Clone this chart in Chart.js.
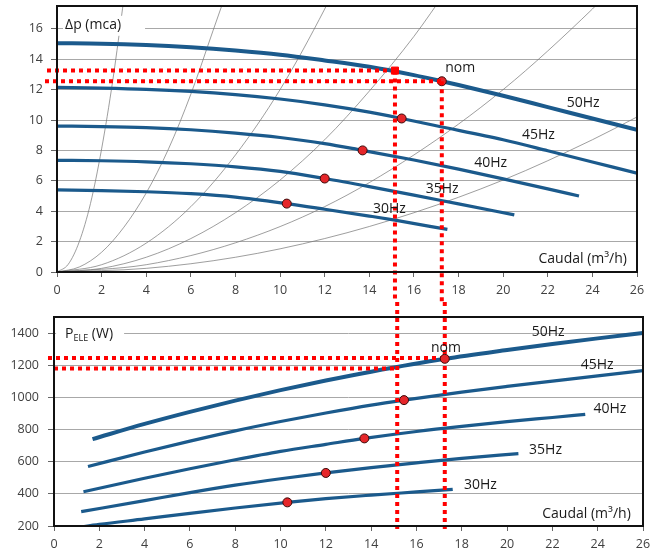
<!DOCTYPE html>
<html>
<head>
<meta charset="utf-8">
<script src="https://cdn.jsdelivr.net/npm/chart.js@4.4.1/dist/chart.umd.min.js"></script>
<style>
  html, body { margin: 0; padding: 0; background: #fff; }
  #wrap { position: relative; width: 660px; height: 559px; }
  #wrap canvas { position: absolute; left: 0; }
  #headChart { top: 0; width: 660px; height: 302px; }
  #powerChart { top: 302px; width: 660px; height: 257px; }
</style>
</head>
<body>
<div id="wrap">
  <canvas id="headChart" width="660" height="302"></canvas>
  <canvas id="powerChart" width="660" height="257"></canvas>
</div>
<script>
/* ========================================
   Pump curves: head and electric power vs flow
==========================================*/

// Tick values
const qTicks = [0, 2, 4, 6, 8, 10, 12, 14, 16, 18, 20, 22, 24, 26];
const headTicks = [0, 2, 4, 6, 8, 10, 12, 14, 16];
const powerTicks = [200, 400, 600, 800, 1000, 1200, 1400];
const freqLabels = ["30Hz", "35Hz", "40Hz", "45Hz", "50Hz"];

// Head curves Δp (mca) vs flow (m3/h)
const hq50 = [0, 2, 4, 6, 8, 10, 12, 14, 16, 17.25, 18, 20, 22, 24, 26];
const h50 = [15.05, 15.02, 14.93, 14.78, 14.57, 14.3, 13.92, 13.5, 12.95, 12.55, 12.3, 11.6, 10.85, 10.1, 9.35];
const hq45 = [0, 2, 4, 6, 8, 10, 12, 14, 15.45, 17, 20, 22, 24, 26];
const h45 = [12.15, 12.1, 12.02, 11.88, 11.67, 11.38, 11.0, 10.52, 10.1, 9.62, 8.7, 7.98, 7.24, 6.5];
const hq40 = [0, 2, 4, 6, 8, 10, 12, 13.7, 16, 18, 20, 22, 23.4];
const h40 = [9.6, 9.57, 9.5, 9.36, 9.14, 8.85, 8.45, 8.0, 7.37, 6.77, 6.13, 5.47, 5.0];
const hq35 = [0, 2, 4, 6, 8, 10, 12, 14, 16, 18, 20.5];
const h35 = [7.35, 7.32, 7.25, 7.12, 6.92, 6.62, 6.15, 5.62, 5.06, 4.48, 3.76];
const hq30 = [0, 2, 4, 6, 8, 10.3, 12, 14, 15.15, 17.5];
const h30 = [5.4, 5.36, 5.28, 5.15, 4.93, 4.5, 4.13, 3.68, 3.41, 2.8];

// System curves (grey)
const sq1 = [0, 0.5, 1, 1.5, 2, 2.5, 3.0];
const sh1 = [0, 0.5, 2.0, 4.5, 8.1, 12.6, 18];
const sq2 = [0, 1, 2, 3, 4, 5, 6, 7, 7.5];
const sh2 = [0, 0.33, 1.3, 2.95, 5.2, 8.1, 11.7, 15.9, 18];
const sq3 = [0, 2, 4, 6, 8, 10, 12, 12.5];
const sh3 = [0, 0.48, 1.9, 4.3, 7.7, 12.0, 17.3, 18.8];
const sq4 = [0, 2, 4, 6, 8, 10, 12, 14, 16, 17.5];
const sh4 = [0, 0.24, 0.97, 2.2, 3.9, 6.05, 8.7, 11.9, 15.5, 18.6];
const sq5 = [0, 4, 8, 12, 16, 20, 24, 25];
const sh5 = [0, 0.48, 1.92, 4.3, 7.7, 12.0, 17.3, 18.8];
const sq6 = [0, 4, 8, 12, 16, 20, 24, 26];
const sh6 = [0, 0.24, 0.97, 2.2, 3.9, 6.05, 8.7, 10.2];

// Electric power curves P_ELE (W) vs flow (m3/h)
const pq50 = [1.7, 4, 6, 8, 10, 12, 14, 17.25, 20, 22, 24, 26];
const p50 = [740, 835, 910, 980, 1045, 1105, 1160, 1240, 1295, 1332, 1367, 1400];
const pq45 = [1.5, 4, 6, 8, 10, 12, 14, 15.45, 18, 20, 22, 24, 26];
const p45 = [570, 660, 728, 792, 850, 903, 952, 983, 1033, 1068, 1101, 1134, 1166];
const pq40 = [1.3, 4, 6, 8, 10, 12, 13.7, 16, 18, 20, 22, 23.45];
const p40 = [413, 497, 556, 612, 664, 708, 745, 788, 820, 849, 875, 894];
const pq35 = [1.2, 4, 6, 8, 10, 12, 14, 16, 18, 20.5];
const p35 = [289, 358, 408, 454, 494, 530, 563, 593, 621, 650];
const pq30 = [1.0, 2, 4, 6, 8, 10.3, 12, 14, 16, 17.6];
const p30 = [190, 210, 244, 279, 312, 347, 370, 392, 412, 428];

// Operating points (one per frequency, 30..50Hz)
const opQ = [10.3, 12.0, 13.7, 15.45, 17.25];
const opHead = [4.5, 6.15, 8.0, 10.1, 12.55];
const opPower = [347, 530, 745, 983, 1240];

// Red guide lines (duty point and nominal point)
const guideQ = [15.15, 17.25];
const guideHead = [13.25, 12.55];
const guidePower = [1180, 1245];

const BLUE = "#1b5a8c";
const GREY_SYS = "rgba(120,120,120,0.8)";
const RED = "#ff0000";
const FONT = "'Open Sans', sans-serif";

document.addEventListener("DOMContentLoaded", () => {
  createHeadChart();
  createPowerChart();
});

/* ================================
   Helpers
================================ */
function toPoints(xs, ys) {
  return xs.map((x, i) => ({ x: x, y: ys[i] }));
}

function pumpCurve(xs, ys, width) {
  return {
    data: toPoints(xs, ys),
    borderColor: BLUE,
    borderWidth: width,
    pointRadius: 0,
    cubicInterpolationMode: "monotone",
    fill: false,
    order: 2,
  };
}

function systemCurve(xs, ys) {
  return {
    data: toPoints(xs, ys),
    borderColor: GREY_SYS,
    borderWidth: 0.9,
    pointRadius: 0,
    cubicInterpolationMode: "monotone",
    fill: false,
    order: 3,
  };
}

function markers(xs, ys, extra) {
  return Object.assign({
    data: toPoints(xs, ys),
    showLine: false,
    pointRadius: 4.5,
    pointBackgroundColor: "#e5262a",
    pointBorderColor: "#3a0a0a",
    pointBorderWidth: 1,
    order: 0,
  }, extra || {});
}

function xAxis(height, pad) {
  return {
    type: "linear",
    min: 0,
    max: 26,
    afterBuildTicks: (s) => { s.ticks = qTicks.map((v) => ({ value: v })); },
    afterFit: (s) => { s.height = height; s.paddingLeft = 0; s.paddingRight = 0; },
    grid: { drawOnChartArea: false, drawTicks: true, tickLength: 5, tickColor: "#666" },
    border: { display: false },
    ticks: {
      color: "#404040", font: { family: FONT, size: 12.5 }, padding: pad,
      maxRotation: 0, autoSkip: false, callback: (v) => String(v),
    },
  };
}

function yAxis(min, max, ticksArr, width, pad) {
  return {
    type: "linear",
    min: min,
    max: max,
    afterBuildTicks: (s) => { s.ticks = ticksArr.map((v) => ({ value: v })); },
    afterFit: (s) => { s.width = width; s.paddingTop = 0; s.paddingBottom = 0; },
    grid: { color: "#a8a8a8", lineWidth: 1, drawTicks: true, tickLength: 6, tickColor: "#666" },
    border: { display: false },
    ticks: {
      color: "#404040", font: { family: FONT, size: 12.5 }, padding: pad,
      callback: (v) => String(v),
    },
  };
}

function drawNotes(chart, notes) {
  const { ctx, scales } = chart;
  ctx.save();
  ctx.fillStyle = "#1a1a1a";
  ctx.font = "14px " + FONT;
  ctx.textBaseline = "alphabetic";
  notes.forEach((n) => {
    ctx.textAlign = n.align || "left";
    ctx.fillText(n.text, scales.x.getPixelForValue(n.q), scales.y.getPixelForValue(n.v));
  });
  ctx.restore();
}

function drawFrame(chart) {
  const { ctx, chartArea: a } = chart;
  ctx.save();
  ctx.strokeStyle = "#111";
  ctx.lineWidth = 2;
  ctx.strokeRect(a.left, a.top, a.right - a.left, a.bottom - a.top);
  ctx.restore();
}

// red dotted guides: horizontal from the left margin to the point,
// vertical between top / bottom (pixels, or the point itself)
function drawGuides(chart, guides) {
  const { ctx, scales } = chart;
  ctx.save();
  ctx.strokeStyle = RED;
  ctx.lineWidth = 4;
  ctx.setLineDash([4, 4]);
  guides.forEach((g) => {
    const px = scales.x.getPixelForValue(g.q);
    const py = scales.y.getPixelForValue(g.v);
    ctx.beginPath();
    ctx.moveTo(g.left, py);
    ctx.lineTo(px, py);
    ctx.stroke();
    ctx.beginPath();
    ctx.moveTo(px, g.top === "point" ? py : g.top);
    ctx.lineTo(px, g.bottom === "area" ? chart.chartArea.bottom + 3 : g.bottom);
    ctx.stroke();
  });
  ctx.restore();
}

function overlayPlugin(cfg) {
  return {
    id: "overlay",
    beforeDatasetDraw(chart, args) {
      if (chart.data.datasets[args.index].guidesBefore) drawGuides(chart, cfg.guides);
    },
    afterDraw(chart) {
      drawFrame(chart);
      cfg.title(chart);
      drawNotes(chart, cfg.notes);
    },
  };
}

const baseOptions = {
  responsive: false,
  animation: false,
  devicePixelRatio: 1,
  plugins: { legend: { display: false }, tooltip: { enabled: false } },
  events: [],
};

/* ================================
   Chart: head Δp vs flow
================================ */
function createHeadChart() {
  const ctx = document.getElementById("headChart").getContext("2d");
  const c = ctx.canvas;

  const notes = [
    { text: "nom", q: 17.4, v: 13.14 },
    { text: freqLabels[4], q: 22.85, v: 10.88 },
    { text: freqLabels[3], q: 20.84, v: 8.75 },
    { text: freqLabels[2], q: 18.7, v: 6.89 },
    { text: freqLabels[1], q: 16.53, v: 5.18 },
    { text: freqLabels[0], q: 14.16, v: 3.86 },
    { text: "Caudal (m³/h)", q: 25.55, v: 0.575, align: "right" },
  ];

  const guides = [
    { q: guideQ[0], v: guideHead[0], left: 47, top: "point", bottom: c.height },
    { q: guideQ[1], v: guideHead[1], left: 45, top: "point", bottom: c.height },
  ];

  const title = (chart) => {
    const { ctx: g, scales } = chart;
    const x = scales.x.getPixelForValue(0.36);
    const y = scales.y.getPixelForValue(16.0);
    g.save();
    g.font = "14px " + FONT;
    const w = g.measureText("Δp (mca)").width;
    g.fillStyle = "#fff";
    g.fillRect(x - 2, y - 13, w + 26, 20);
    g.fillStyle = "#1a1a1a";
    g.textBaseline = "alphabetic";
    g.fillText("Δp (mca)", x, y);
    g.restore();
  };

  new Chart(ctx, {
    type: "line",
    data: {
      datasets: [
        markers([guideQ[0]], [guideHead[0]], {
          pointStyle: "rect", pointRadius: 5, pointBackgroundColor: RED,
          pointBorderColor: RED, guidesBefore: true,
        }),
        markers(opQ, opHead),
        pumpCurve(hq50, h50, 4),
        pumpCurve(hq45, h45, 3.2),
        pumpCurve(hq40, h40, 3.2),
        pumpCurve(hq35, h35, 3.2),
        pumpCurve(hq30, h30, 3.2),
        systemCurve(sq1, sh1),
        systemCurve(sq2, sh2),
        systemCurve(sq3, sh3),
        systemCurve(sq4, sh4),
        systemCurve(sq5, sh5),
        systemCurve(sq6, sh6),
      ],
    },
    options: Object.assign({}, baseOptions, {
      layout: { padding: { left: 0, right: 23, top: 6, bottom: 0 } },
      scales: {
        x: xAxis(30, 6),
        y: yAxis(0, 17.5, headTicks, 57, 8),
      },
    }),
    plugins: [overlayPlugin({ notes: notes, guides: guides, title: title })],
  });
}

/* ================================
   Chart: electric power vs flow
================================ */
function createPowerChart() {
  const ctx = document.getElementById("powerChart").getContext("2d");

  const notes = [
    { text: freqLabels[4], q: 21.09, v: 1381 },
    { text: "nom", q: 16.64, v: 1280 },
    { text: freqLabels[3], q: 23.25, v: 1174 },
    { text: freqLabels[2], q: 23.81, v: 901 },
    { text: freqLabels[1], q: 20.97, v: 646 },
    { text: freqLabels[0], q: 18.1, v: 430 },
    { text: "Caudal (m³/h)", q: 25.46, v: 248, align: "right" },
  ];

  const guides = [
    { q: guideQ[0], v: guidePower[0], left: 54, top: 0, bottom: "area" },
    { q: guideQ[1], v: guidePower[1], left: 48, top: 0, bottom: "area" },
  ];

  const title = (chart) => {
    const { ctx: g, scales } = chart;
    const x = scales.x.getPixelForValue(0.49);
    const y = scales.y.getPixelForValue(1367);
    g.save();
    g.fillStyle = "#fff";
    g.fillRect(x - 9, y - 13, 68, 20);
    g.fillStyle = "#1a1a1a";
    g.textBaseline = "alphabetic";
    g.font = "14px " + FONT;
    g.fillText("P", x, y);
    const wp = g.measureText("P").width;
    g.font = "9px " + FONT;
    g.fillText("ELE", x + wp, y + 3);
    const we = g.measureText("ELE").width;
    g.font = "14px " + FONT;
    g.fillText(" (W)", x + wp + we, y);
    g.restore();
  };

  new Chart(ctx, {
    type: "line",
    data: {
      datasets: [
        markers(opQ, opPower, { guidesBefore: true }),
        pumpCurve(pq50, p50, 4),
        pumpCurve(pq45, p45, 3.2),
        pumpCurve(pq40, p40, 3.2),
        pumpCurve(pq35, p35, 3.2),
        pumpCurve(pq30, p30, 3.2),
      ],
    },
    options: Object.assign({}, baseOptions, {
      layout: { padding: { left: 0, right: 17, top: 15, bottom: 0 } },
      scales: {
        x: xAxis(33, 6),
        y: yAxis(200, 1500, powerTicks, 54, 9),
      },
    }),
    plugins: [overlayPlugin({ notes: notes, guides: guides, title: title })],
  });
}
</script>
</body>
</html>
